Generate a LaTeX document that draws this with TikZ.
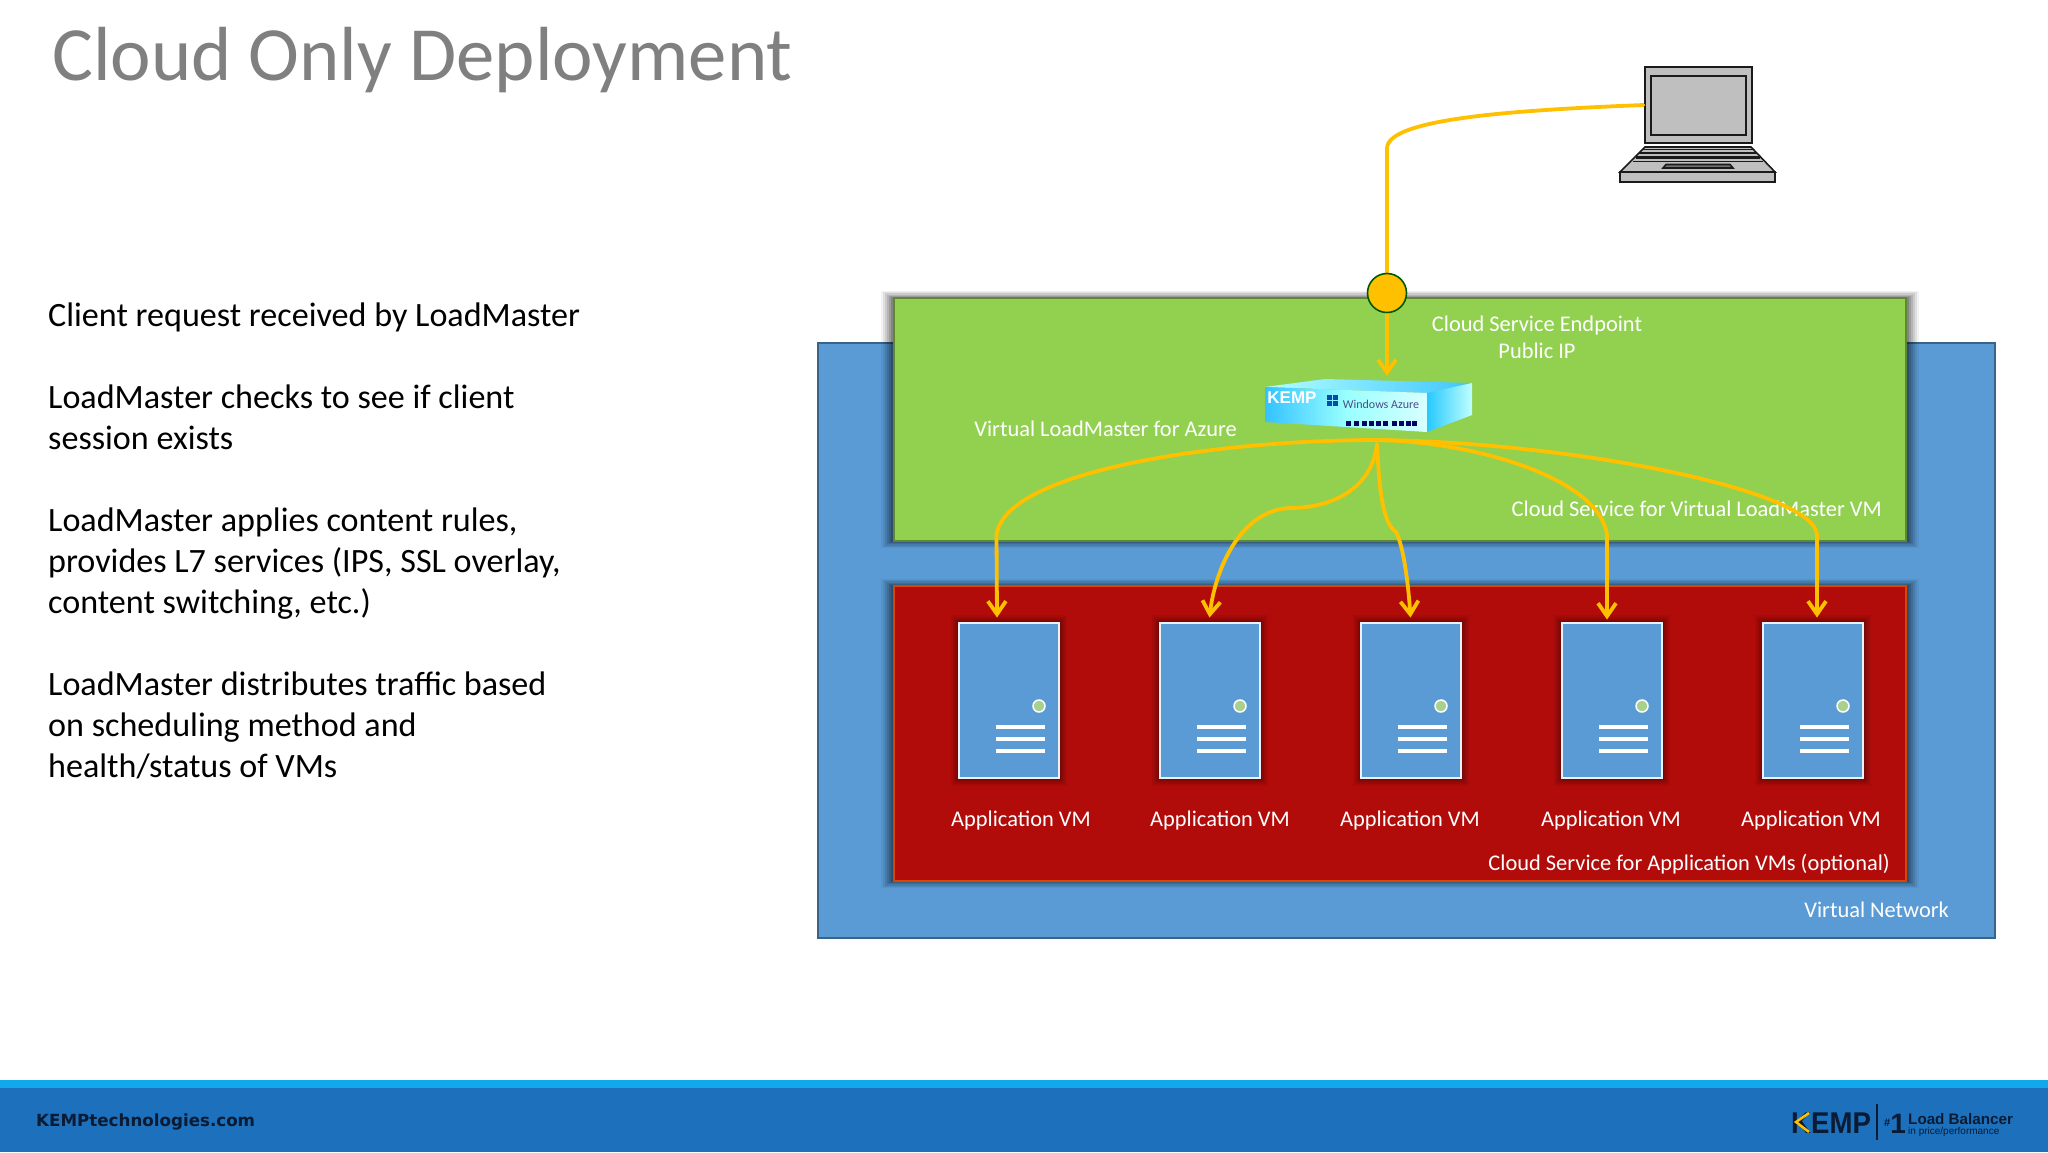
\documentclass[tikz,border=0pt]{standalone}
\usepackage{fontspec}
\setmainfont{Carlito}
\newfontfamily\heros{Liberation Sans}
\newfontfamily\dejab{DejaVu Sans}
\usetikzlibrary{arrows.meta,calc}
\definecolor{wirec}{HTML}{FFC000}
\definecolor{vnet}{HTML}{5B9BD5}
\definecolor{grn}{HTML}{92D050}
\definecolor{rd}{HTML}{B10C0A}
\definecolor{footb}{HTML}{1C70BC}
\definecolor{footl}{HTML}{12A9EC}
\definecolor{lapg}{HTML}{BFBFBF}
\definecolor{lapk}{HTML}{1A1A1A}
\definecolor{ink}{HTML}{0A1B33}
\definecolor{leddot}{HTML}{A9D18E}
\newcommand{\fsz}[1]{\fontsize{#1}{#1}\selectfont}
\tikzset{
  x=1pt,y=-1pt,
  wire/.style={draw=wirec,line width=3.8pt,line cap=round,line join=round},
  wiretip/.style={wire,-{Straight Barb[length=13pt,width=18pt,line width=3.8pt]}},
  vm/.style={draw=white!88!vnet,line width=2pt,fill=vnet,minimum width=100pt,minimum height=155pt,inner sep=0pt},
  lbl/.style={text=white,font=\fsz{22.4},inner sep=0pt,anchor=base},
  body/.style={anchor=base west,text=black,font=\fsz{34.1},inner sep=0pt},
  lapline/.style={draw=lapk,line width=1.6pt,line join=miter},
}
\newcommand{\softshadow}[4]{%
  \foreach \d/\o in {10/.05,8/.07,6/.09,4/.11,2/.13,0/.15}{
    \fill[black,opacity=\o] (#1-\d-3,#2-\d*.6-1) rectangle (#3+\d+3,#4+\d*.6+1);
  }}
\begin{document}
\begin{tikzpicture}
\useasboundingbox (0,0) rectangle (2048,1152);
\fill[white] (0,0) rectangle (2048,1152);

% footer
\fill[footb] (0,1087) rectangle (2048,1152);
\fill[footl] (0,1080) rectangle (2048,1088);

% title and body text
\node[anchor=base west,inner sep=0pt,text=black!50,font=\fsz{76.7}] (title) at (52,80) {Cloud Only Deployment};
\node[body] (t1) at (48,326) {Client request received by LoadMaster};
\node[body] (t2) at (48,408) {LoadMaster checks to see if client};
\node[body] (t3) at (48,449) {session exists};
\node[body] (t4) at (48,531) {LoadMaster applies content rules,};
\node[body] (t5) at (48,572) {provides L7 services (IPS, SSL overlay,};
\node[body] (t6) at (48,613) {content switching, etc.)};
\node[body] (t7) at (48,695) {LoadMaster distributes traffic based};
\node[body] (t8) at (48,736) {on scheduling method and};
\node[body] (t9) at (48,777) {health/status of VMs};

% virtual network
\draw[draw=black!25!vnet!85!black,line width=2pt,fill=vnet] (818,343) rectangle (1995,938);
\softshadow{894}{298}{1906}{541}
\softshadow{894}{586}{1906}{881}
\draw[draw=black!35!grn,line width=2pt,fill=grn] (894,298) rectangle (1906,541);
\draw[draw=orange!50!rd,line width=1.5pt,fill=rd] (894,586) rectangle (1906,881);

% servers
\foreach \i/\cx/\lx in {1/1008.5/1021,2/1209.5/1220,3/1410.5/1410,4/1611.5/1611,5/1812.5/1811}{
  \foreach \d/\o in {8/.06,6/.08,4/.10,2/.14}{
    \fill[black,opacity=\o] (\cx-50-\d,700-77.5-\d) rectangle (\cx+50+\d,700+77.5+\d);
  }
  \node[vm] (vm\i) at (\cx,700) {};
  \draw[white,line width=1.5pt,fill=leddot] (\cx+30.5,706) circle (6);
  \foreach \ly in {727,739,751}{
    \fill[white] (\cx-12.5,\ly-2) rectangle (\cx+36.5,\ly+2);
  }
  \node[lbl] (lab\i) at (\lx,826) {Application VM};
}

% labels
\node[lbl] (epl1) at (1537,331) {Cloud Service Endpoint};
\node[lbl] (epl2) at (1537,358) {Public IP};
\node[lbl,anchor=base east] (vlm) at (1237,436) {Virtual LoadMaster for Azure};
\node[lbl,anchor=base east] (cs1) at (1882,516) {Cloud Service for Virtual LoadMaster VM};
\node[lbl,anchor=base east] (cs2) at (1890,870) {Cloud Service for Application VMs (optional)};
\node[lbl,anchor=base east] (vn) at (1949,917) {Virtual Network};

% appliance
\shade[left color=cyan!30!white,middle color=cyan!60!blue!80!white,right color=cyan!70!blue!75!white] (1265,387) -- (1325,379) -- (1472,383) -- (1427,393) -- cycle;
\shade[left color=cyan!70!blue!80!white,right color=white!85!cyan,middle color=cyan!40!white] (1265,387) -- (1427,393) -- (1427,432) -- (1265,422) -- cycle;
\shade[left color=cyan!75!blue!85!white,right color=cyan!25!white] (1427,393) -- (1472,383) -- (1472,415) -- (1427,432) -- cycle;
\node[inner sep=0pt,text=white,font=\heros\bfseries\fsz{17}] (kemplogo) at (1292,398) {KEMP};
\foreach \a/\b in {0/0,1/0,0/1,1/1}{\fill[blue!50!black!70!cyan] (1327+\a*6,395+\b*6) rectangle +(5,5);}
\node[inner sep=0pt,text=black!40!blue!40!gray,font=\fsz{12}] (azure) at (1381,404) {Windows Azure};
\foreach \px in {1346,1354,1362,1369,1376,1383,1392,1399,1406,1412}{
  \fill[blue!40!black] (\px,421) rectangle +(5,5);
}

% coordinates for connectors
\coordinate (boxtop) at (1387,376);
\coordinate (src) at (1377,440);
\coordinate (src2) at (1377,444);
\coordinate (tip1) at ($(vm1.north)+(-11.5,-4)$);
\coordinate (tip2) at ($(vm2.north)+(0,-4)$);
\coordinate (tip3) at ($(vm3.north)+(0,-4)$);
\coordinate (tip4) at ($(vm4.north)+(-4.5,-2)$);
\coordinate (tip5) at ($(vm5.north)+(4.5,-4)$);

% laptop
\node[draw=lapk,line width=2pt,fill=lapg,minimum width=107pt,minimum height=76pt,inner sep=0pt] (lap) at (1698,105) {};
\node[draw=lapk,line width=2pt,fill=lapg,minimum width=95pt,minimum height=59pt,inner sep=0pt] (scr) at (1698.5,105) {};
\draw[lapline,fill=lapg] (1645,147) -- (1751,147) -- (1775,172) -- (1620,172) -- cycle;
\draw[lapline,fill=lapg] (1620,172) rectangle (1775,182);
\draw[lapline] (1643,149.5) -- (1753,149.5);
\draw[lapline] (1639,153) -- (1757,153);
\draw[lapk,line width=3pt] (1636,157.5) -- (1760,157.5);
\draw[lapline] (1633,161.5) -- (1763,161.5);
\draw[lapline,fill=black!55] (1666,164.5) -- (1730,164.5) -- (1733,168) -- (1663,168) -- cycle;

% connectors
\draw[wire] (lap.west) .. controls (1520,110) and (1388,118) .. (1387,148) -- (1387,280);
\draw[wiretip] (1387,300) -- (boxtop);
\draw[wiretip] (src) .. controls (1220,440) and (1005,470) .. (996.5,535) -- (tip1);
\draw[wiretip] (src2) .. controls (1372,490) and (1330,508) .. (1290,508) .. controls (1240,510) and (1215,570) .. (tip2);
\draw[wiretip] (src2) .. controls (1379,480) and (1381,522) .. (1396,532) .. controls (1403,545) and (1408,580) .. (tip3);
\draw[wiretip] (src) .. controls (1480,442) and (1600,480) .. (1607,535) -- (tip4);
\draw[wiretip] (src) .. controls (1570,442) and (1815,490) .. (1817,535) -- (tip5);
\node[circle,draw=green!35!black,line width=1.6pt,fill=wirec,minimum size=39pt,inner sep=0pt] (ep) at (1387,293) {};

% footer text and logo
\node[anchor=base west,inner sep=0pt,text=ink,font=\dejab\bfseries\fsz{16.7}] (web) at (36,1126) {KEMPtechnologies.com};
\node[anchor=base west,inner sep=0pt,text=ink,font=\heros\bfseries\fsz{30}] (klogo) at (1791,1133) {\scalebox{.92}[1]{KEMP}};
\draw[wirec,line width=2.5pt,line join=miter] (1809,1113) -- (1796,1122) -- (1809,1132);
\draw[ink,line width=1.4pt] (1877,1104) -- (1877,1140);
\node[anchor=base west,inner sep=0pt,text=ink,font=\heros\bfseries\fsz{28}] (hash) at (1884,1133) {\raisebox{7pt}{\fsz{11}\#}1};
\node[anchor=base west,inner sep=0pt,text=ink,font=\heros\bfseries\fsz{15.2}] (lb) at (1908,1124) {Load Balancer};
\node[anchor=base west,inner sep=0pt,text=ink,font=\heros\fsz{10}] (pp) at (1908,1134) {in price/performance};
\end{tikzpicture}
\end{document}
